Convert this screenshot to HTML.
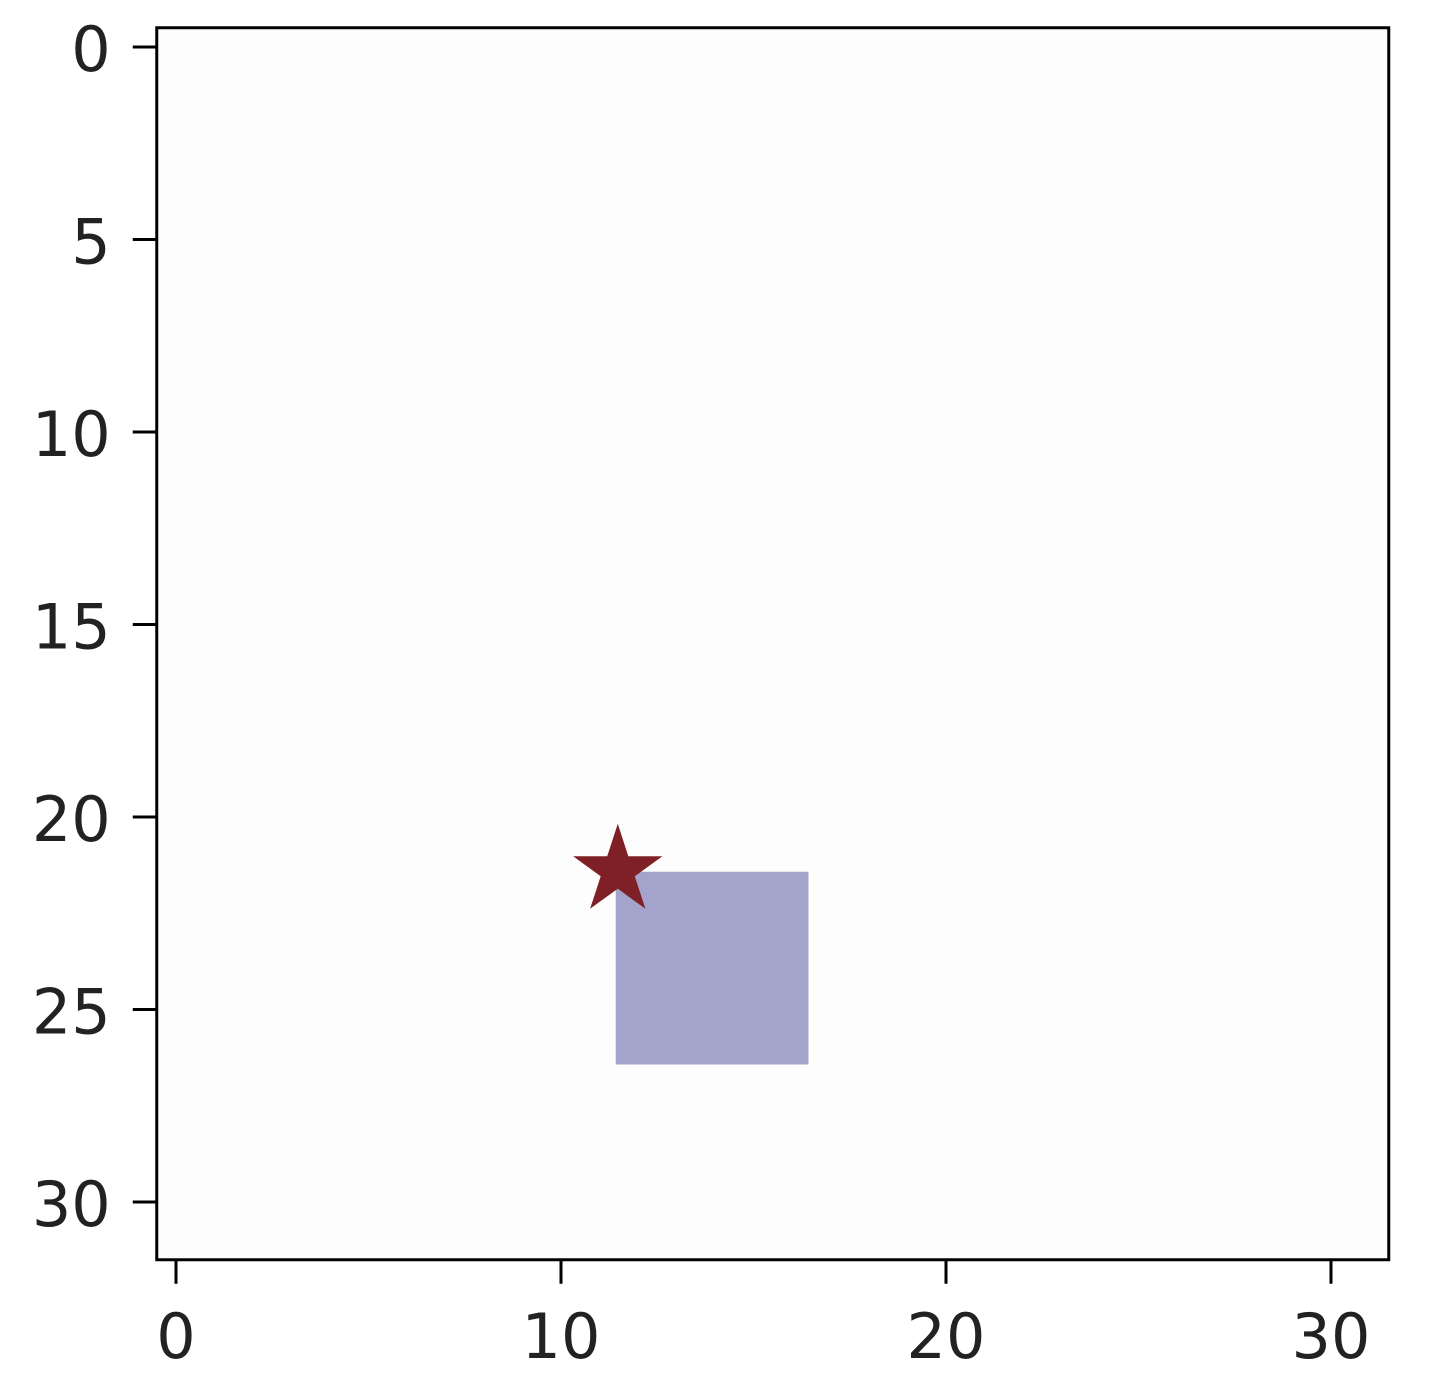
<!DOCTYPE html>
<html><head><meta charset="utf-8"><style>
html,body{margin:0;padding:0;background:#fff;}
svg{display:block;font-family:"DejaVu Sans","Liberation Sans",sans-serif;}
</style></head><body>
<svg id="chart" width="1446" height="1394" viewBox="0 0 1446 1394"></svg>
<script>
const xTicks = [0, 10, 20, 30];
const yTicks = [0, 5, 10, 15, 20, 25, 30];
const squareCols = [12, 13, 14, 15, 16];
const squareRows = [22, 23, 24, 25, 26];
const starX = [11.5];
const starY = [21.5];
const ns = "http://www.w3.org/2000/svg";
const svg = document.getElementById('chart');
const S = 38.5;
const xpx = v => 176 + S * v;
const ypx = v => 47 + S * v;
function mk(tag, attrs, parent) {
  const e = document.createElementNS(ns, tag);
  for (const k in attrs) e.setAttribute(k, attrs[k]);
  (parent || svg).appendChild(e);
  return e;
}
const x0 = xpx(-0.5), x1 = xpx(31.5), y0 = ypx(-0.5), y1 = ypx(31.5);
const bg = mk('rect', {x: x0, y: y0, width: x1 - x0, height: y1 - y0, fill: '#fdfdfd'});


const sq = mk('g', {});


squareRows.forEach(r => squareCols.forEach(c => {
  const cell = mk('rect', {x: xpx(c - 0.5) - 3, y: ypx(r - 0.5) - 3, width: S * 0.99 + 0.6, height: S * 0.99 + 0.6, fill: '#a3a3cc'}, sq);
  
  
}));
starX.forEach((sx, i) => {
  const cx = xpx(sx) - 1, cy = ypx(starY[i]) - 4, R = 47, r = R * 0.382;
  let pts = [];
  for (let k = 0; k < 10; k++) {
    const a = -Math.PI / 2 + k * Math.PI / 5, rr = k % 2 ? r : R;
    pts.push((cx + rr * Math.cos(a)).toFixed(1) + ',' + (cy + rr * Math.sin(a)).toFixed(1));
  }
  const st = mk('polygon', {points: pts.join(' '), fill: '#7f2027'});
  
  
});
const frame = mk('rect', {x: x0, y: y0, width: x1 - x0, height: y1 - y0, fill: 'none', stroke: '#000', 'stroke-width': 3});


xTicks.forEach(t => {
  const tk = mk('line', {x1: xpx(t), x2: xpx(t), y1: y1, y2: y1 + 24, stroke: '#000', 'stroke-width': 3});
  
  
  const tx = mk('text', {x: xpx(t), y: y1 + 98, 'text-anchor': 'middle', 'font-size': 62, fill: '#222'});
  tx.textContent = t;
  
  
});
yTicks.forEach(t => {
  const tk = mk('line', {x1: x0, x2: x0 - 24, y1: ypx(t), y2: ypx(t), stroke: '#000', 'stroke-width': 3});
  
  
  const tx = mk('text', {x: x0 - 46, y: ypx(t) + 24, 'text-anchor': 'end', 'font-size': 62, fill: '#222'});
  tx.textContent = t;
  
  
});
</script>
</body></html>
